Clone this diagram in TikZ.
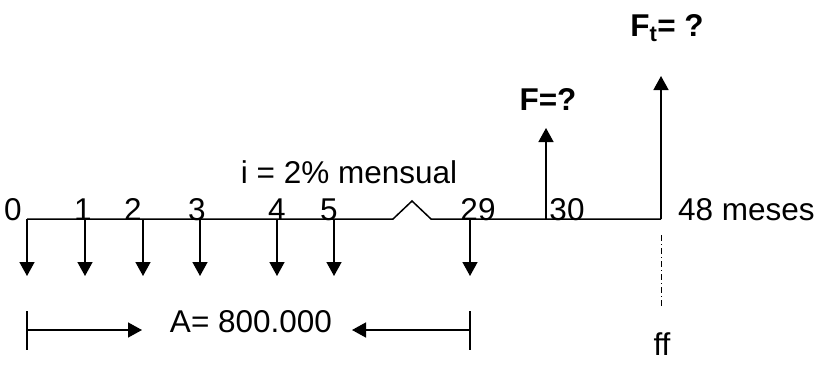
\documentclass[tikz,border=0pt]{standalone}
\usepackage{fontspec}
\setmainfont{Liberation Sans}
\usetikzlibrary{arrows.meta}

\begin{document}
\begin{tikzpicture}[x=1pt,y=-1pt,
  lbl/.style={font=\fontsize{31.5}{36}\selectfont,anchor=base,inner sep=0pt},
  blbl/.style={lbl,font=\fontsize{31.5}{36}\selectfont\bfseries},
  flow/.style={-{Triangle[length=14pt,width=15pt]},line width=1.5pt},
  axis/.style={line width=1.5pt}
]
  \useasboundingbox (0,0) rectangle (818,367);
  % time line points
  \coordinate (t0) at (27,219);
  \coordinate (t1) at (85,219);
  \coordinate (t2) at (143,219);
  \coordinate (t3) at (200,219);
  \coordinate (t4) at (277,219);
  \coordinate (t5) at (334,219);
  \coordinate (t29) at (470,219);
  \coordinate (t30) at (546,219);
  \coordinate (t48) at (661,219);
  \coordinate (brka) at (393,219);
  \coordinate (brkb) at (412,201);
  \coordinate (brkc) at (431,219);
  \coordinate (tip) at (0,276);
  \coordinate (f30) at (546,128);
  \coordinate (f48) at (661,76);
  \draw[axis] (t0) -- (brka) -- (brkb) -- (brkc) -- (t48);
  % payments
  \foreach \t in {0,1,2,3,4,5,29}
    \draw[flow] (t\t) -- (t\t |- tip);
  \draw[flow] (t30) -- (f30);
  \draw[flow] (t48) -- (f48);
  % labels
  \node[lbl] (l0) at (13,220) {0};
  \node[lbl] (l1) at (83,220) {1};
  \node[lbl] (l2) at (133,220) {2};
  \node[lbl] (l3) at (197,220) {3};
  \node[lbl] (l4) at (277,220) {4};
  \node[lbl] (l5) at (329,220) {5};
  \node[lbl] (l29) at (478,220) {29};
  \node[lbl] (l30) at (567,220) {30};
  \node[lbl,anchor=base west] (l48) at (678,220) {48 meses};
  \node[lbl] (rate) at (349,183) {i = 2\% mensual};
  \node[blbl] (fq) at (548,110) {F=?};
  \node[blbl] (ftq) at (667,36) {F\textsubscript{t}= ?};
  % focal date
  \coordinate (ffa) at (661,235);
  \coordinate (ffb) at (661,307);
  \draw[line width=1pt,dash pattern=on 6pt off 3pt on 1pt off 3pt] (ffa) -- (ffb);
  \node[lbl] (ff) at (662,355) {ff};
  % annuity span
  \coordinate (sa) at (27,330);
  \coordinate (sb) at (470,330);
  \coordinate (aa) at (142,330);
  \coordinate (ab) at (352,330);
  \draw[axis] (27,311) -- (27,350);
  \draw[axis] (470,311) -- (470,350);
  \draw[flow] (sa) -- (aa);
  \draw[flow] (sb) -- (ab);
  \node[lbl] (amt) at (251,332) {A= 800.000};
\end{tikzpicture}
\end{document}
